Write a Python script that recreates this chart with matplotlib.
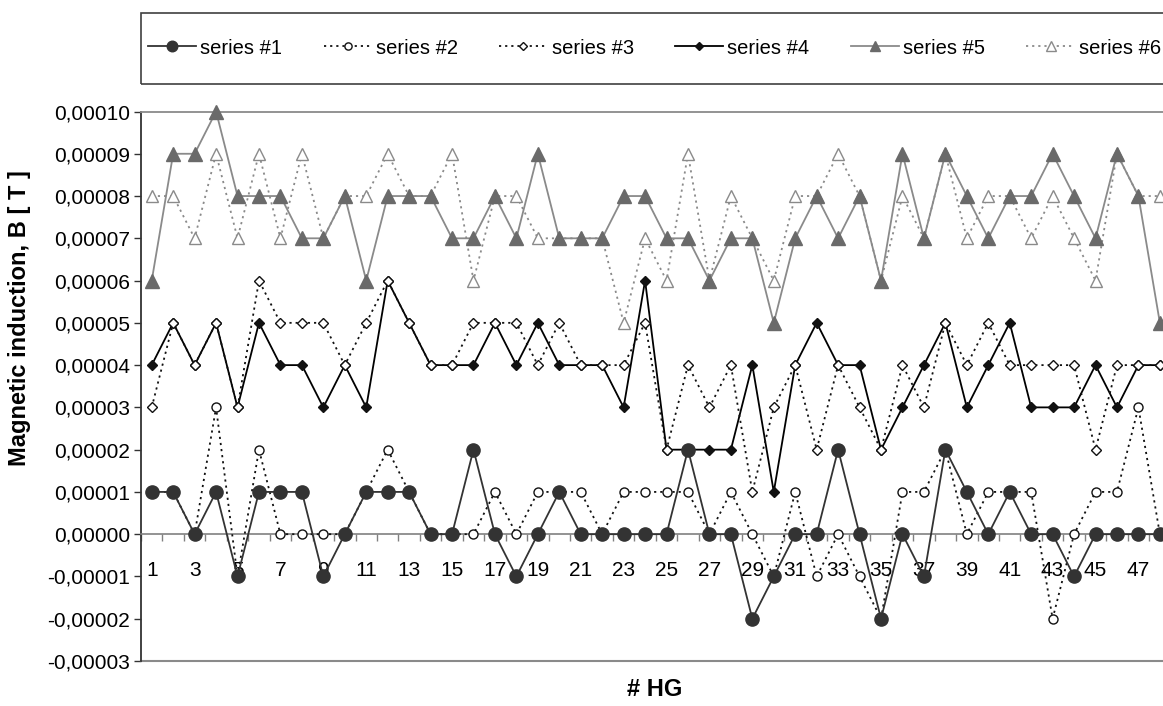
import matplotlib
matplotlib.use("Agg")
import matplotlib.pyplot as plt
import matplotlib.ticker as plticker
from matplotlib.patches import Rectangle
import numpy as np

plt.rcParams['font.family'] = ['Liberation Sans', 'DejaVu Sans']

# datos (unidades de 1e-5 T)
hg = np.arange(1, 49)
serie1 = [1, 1, 0, 1, -1, 1, 1, 1, -1, 0, 1, 1, 1, 0, 0, 2, 0, -1, 0, 1, 0, 0, 0, 0,
          0, 2, 0, 0, -2, -1, 0, 0, 2, 0, -2, 0, -1, 2, 1, 0, 1, 0, 0, -1, 0, 0, 0, 0]
serie2 = [1, 1, 0, 3, -1, 2, 0, 0, 0, 0, 1, 2, 1, 0, 0, 0, 1, 0, 1, 1, 1, 0, 1, 1,
          1, 1, 0, 1, 0, -1, 1, -1, 0, -1, -2, 1, 1, 2, 0, 1, 1, 1, -2, 0, 1, 1, 3, 0]
serie3 = [3, 5, 4, 5, 3, 6, 5, 5, 5, 4, 5, 6, 5, 4, 4, 5, 5, 5, 4, 5, 4, 4, 4, 5,
          2, 4, 3, 4, 1, 3, 4, 2, 4, 3, 2, 4, 3, 5, 4, 5, 4, 4, 4, 4, 2, 4, 4, 4]
serie4 = [4, 5, 4, 5, 3, 5, 4, 4, 3, 4, 3, 6, 5, 4, 4, 4, 5, 4, 5, 4, 4, 4, 3, 6,
          2, 2, 2, 2, 4, 1, 4, 5, 4, 4, 2, 3, 4, 5, 3, 4, 5, 3, 3, 3, 4, 3, 4, 4]
serie5 = [6, 9, 9, 10, 8, 8, 8, 7, 7, 8, 6, 8, 8, 8, 7, 7, 8, 7, 9, 7, 7, 7, 8, 8,
          7, 7, 6, 7, 7, 5, 7, 8, 7, 8, 6, 9, 7, 9, 8, 7, 8, 8, 9, 8, 7, 9, 8, 5]
serie6 = [8, 8, 7, 9, 7, 9, 7, 9, 7, 8, 8, 9, 8, 8, 9, 6, 8, 8, 7, 7, 7, 7, 5, 7,
          6, 9, 6, 8, 7, 6, 8, 8, 9, 8, 6, 8, 7, 9, 7, 8, 8, 7, 8, 7, 6, 9, 8, 8]
nombres = ["series #1", "series #2", "series #3", "series #4", "series #5", "series #6"]

escala = 1e-5
punteado = (0, (1.2, 2.2))

estilos = [
    dict(color='#333333', ls='-', marker='o', ms=9.5, mfc='#333333', mec='#333333', lw=1.3),
    dict(color='#111111', ls=punteado, marker='o', ms=6.5, mfc='white', mec='#111111', lw=1.3, mew=1.0),
    dict(color='#111111', ls=punteado, marker='D', ms=5.0, mfc='white', mec='#111111', lw=1.3, mew=1.0),
    dict(color='#000000', ls='-', marker='D', ms=5.5, mfc='#111111', mec='#111111', lw=1.3),
    dict(color='#8a8a8a', ls='-', marker='^', ms=9.5, mfc='#6a6a6a', mec='#6a6a6a', lw=1.3),
    dict(color='#8a8a8a', ls=punteado, marker='^', ms=8.5, mfc='white', mec='#8a8a8a', lw=1.3, mew=1.0),
]

fig = plt.figure(figsize=(11.63, 7.06), dpi=100)
ax = fig.add_axes([141/1163, 1 - 661/706, 1029.6/1163, 549.5/706])

series = [serie1, serie2, serie3, serie4, serie5, serie6]
handles = []
for i, (s, st) in enumerate(zip(series, estilos)):
    h, = ax.plot(hg, np.array(s) * escala, zorder=10 - i, clip_on=False, **st)
    handles.append(h)

ax.set_xlim(0.5, 48.5)
ax.set_ylim(-3e-5, 1e-4)

# eje y
ax.yaxis.set_major_locator(plticker.MultipleLocator(1e-5))
def fmt_y(v, pos):
    t = "%.5f" % v
    if t == "-0.00000":
        t = "0.00000"
    return t.replace('.', ',')
ax.yaxis.set_major_formatter(plticker.FuncFormatter(fmt_y))
ax.tick_params(axis='y', direction='out', length=5, width=1, color='#333333',
               labelsize=15, pad=3)

# eje x cruzando en cero
ax.spines['bottom'].set_position(('data', 0))
ax.spines['bottom'].set_color('#808080')
ax.spines['bottom'].set_linewidth(1.2)
ax.set_xticks(np.arange(1, 49, 2))
ax.set_xticks(np.arange(0.5, 49, 1), minor=True)
ax.tick_params(axis='x', which='major', length=0, labelsize=15, pad=19)
ax.tick_params(axis='x', which='minor', direction='out', length=5, width=1, color='#808080')

ax.spines['left'].set_color('#333333')
ax.spines['left'].set_linewidth(1.3)
ax.spines['top'].set_color('#8a8a8a')
ax.spines['top'].set_linewidth(1.3)
ax.spines['right'].set_visible(False)
ax.axhline(-3e-5, color='#8a8a8a', lw=1.5, clip_on=False)

fig.text(20/1163, 1 - 318/706, "Magnetic induction, B [ T ]", rotation=90,
         ha='center', va='center', fontsize=17, fontweight='bold')
fig.text(655/1163, 1 - 690/706, "# HG", ha='center', va='center',
         fontsize=17, fontweight='bold')

# leyenda (recortada por el borde derecho)
fig.patches.append(Rectangle((141/1163, 1 - 84/706), 1200/1163, 71/706,
                             transform=fig.transFigure, fill=False,
                             edgecolor='#404040', lw=1.2))
fig.legend(handles, nombres, loc='center left', bbox_to_anchor=(148/1163, 1 - 48/706),
           ncol=6, frameon=False, fontsize=14.5, handlelength=2.4, handletextpad=0.2,
           columnspacing=2.05, borderpad=0, borderaxespad=0, markerscale=0.8)

fig.savefig('out.png', dpi=100)
